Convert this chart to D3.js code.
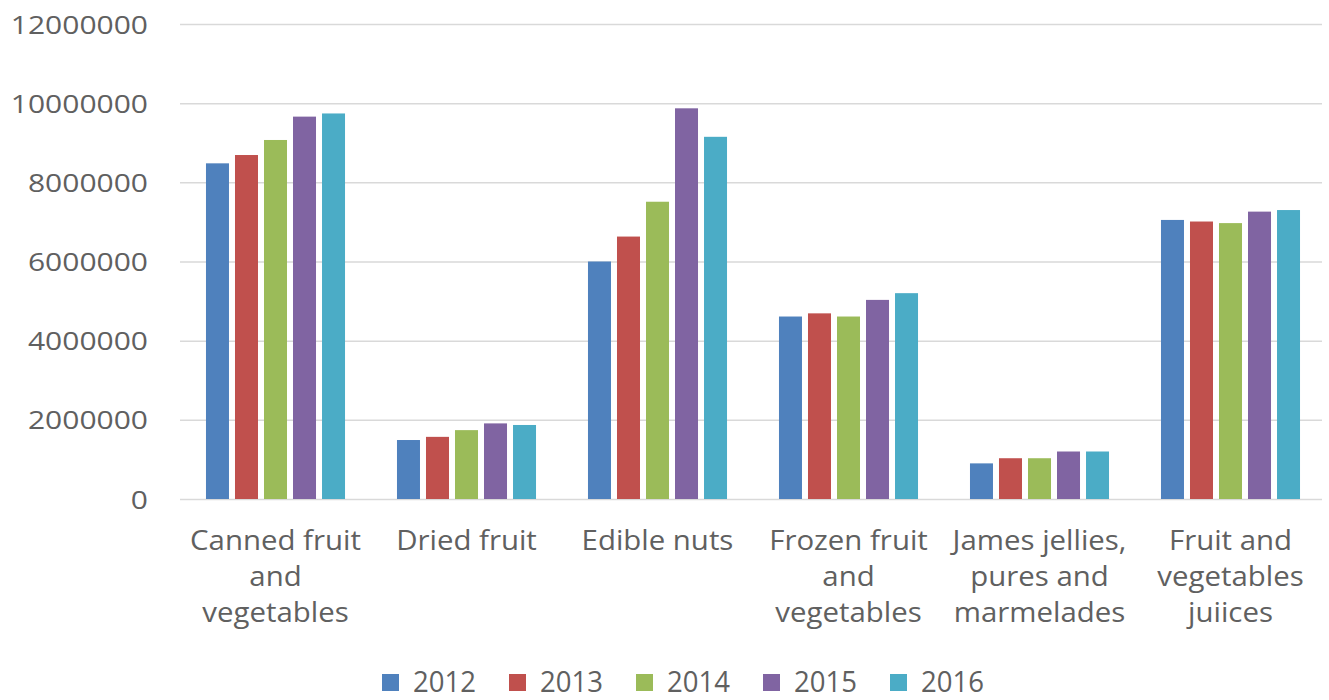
<!DOCTYPE html>
<html>
<head>
<meta charset="utf-8">
<script src="https://cdn.jsdelivr.net/npm/d3@7"></script>
<style>
  html, body { margin: 0; padding: 0; background: #fff; }
  svg { display: block; }
  text { font-family: "Open Sans", "DejaVu Sans", sans-serif; fill: #606060; }
</style>
</head>
<body>
<svg id="chart" width="1329" height="700"></svg>
<script>
// Product groups (line breaks as shown under the axis)
const categories = [
  "Canned fruit\nand\nvegetables",
  "Dried fruit",
  "Edible nuts",
  "Frozen fruit\nand\nvegetables",
  "James jellies,\npures and\nmarmelades",
  "Fruit and\nvegetables\njuiices"
];
const years = ["2012", "2013", "2014", "2015", "2016"];

// Values per year, in category order
const values2012 = [8480000, 1490000, 6000000, 4610000, 900000, 7050000];
const values2013 = [8690000, 1570000, 6630000, 4690000, 1030000, 7010000];
const values2014 = [9070000, 1740000, 7510000, 4610000, 1030000, 6970000];
const values2015 = [9660000, 1910000, 9870000, 5030000, 1200000, 7260000];
const values2016 = [9740000, 1870000, 9150000, 5200000, 1200000, 7300000];

const yTicks = [0, 2000000, 4000000, 6000000, 8000000, 10000000, 12000000];
const colors = ["#4F81BD", "#C0504D", "#9BBB59", "#8064A2", "#4BACC6"];

const series = [values2012, values2013, values2014, values2015, values2016];

const svg = d3.select("#chart");
const plot = { left: 180, right: 1326, top: 24, bottom: 499 };

const x0 = d3.scaleBand()
  .domain(categories)
  .range([plot.left, plot.right])
  .paddingInner(0.272)
  .paddingOuter(0.136);

const x1 = d3.scaleBand()
  .domain(years)
  .range([0, x0.bandwidth()])
  .paddingInner(0.207)
  .paddingOuter(0);

const y = d3.scaleLinear()
  .domain([0, 12000000])
  .range([plot.bottom, plot.top]);

const color = d3.scaleOrdinal().domain(years).range(colors);

// Horizontal gridlines with value labels on the left
const yAxis = d3.axisLeft(y)
  .tickValues(yTicks)
  .tickSize(-(plot.right - plot.left - 4))
  .tickPadding(32)
  .tickFormat(d3.format("d"));

const gy = svg.append("g")
  .attr("transform", `translate(${plot.left},0)`)
  .call(yAxis);
gy.select(".domain").remove();
gy.selectAll(".tick line")
  .attr("stroke", "#d9d9d9")
  .attr("stroke-width", 1.5);
gy.selectAll(".tick text")
  .attr("font-size", 25)
  .attr("fill", "#606060")
  .attr("dy", "0.36em")
  .attr("transform", function () {
    const tx = +d3.select(this).attr("x");
    return `translate(${tx},0) scale(1.2,1) translate(${-tx},0)`;
  });

// Bars
const groups = svg.append("g")
  .selectAll("g")
  .data(categories)
  .join("g")
  .attr("transform", d => `translate(${x0(d)},0)`);

groups.selectAll("rect")
  .data((d, i) => years.map((yr, k) => ({ year: yr, value: series[k][i] })))
  .join("rect")
  .attr("x", d => x1(d.year))
  .attr("width", x1.bandwidth())
  .attr("y", d => y(d.value))
  .attr("height", d => y(0) - y(d.value))
  .attr("fill", d => color(d.year));

// Category labels under the bars
const labels = svg.append("g")
  .selectAll("text")
  .data(categories)
  .join("text")
  .attr("text-anchor", "middle")
  .attr("font-size", 28)
  .attr("transform", d => {
    const cx = x0(d) + x0.bandwidth() / 2;
    return `translate(${cx},550) scale(1.05,1)`;
  });

labels.selectAll("tspan")
  .data(d => d.split("\n"))
  .join("tspan")
  .attr("x", 0)
  .attr("y", (d, i) => i * 36)
  .text(d => d);

// Legend
const legend = svg.append("g")
  .attr("transform", "translate(382,0)");

const item = legend.selectAll("g")
  .data(years)
  .join("g")
  .attr("transform", (d, i) => `translate(${i * 127},0)`);

item.append("rect")
  .attr("x", 0)
  .attr("y", 674)
  .attr("width", 17)
  .attr("height", 17)
  .attr("fill", d => color(d));

item.append("text")
  .attr("x", 0)
  .attr("y", 0)
  .attr("font-size", 29)
  .attr("transform", "translate(31,692) scale(0.95,1)")
  .text(d => d);
</script>
</body>
</html>
